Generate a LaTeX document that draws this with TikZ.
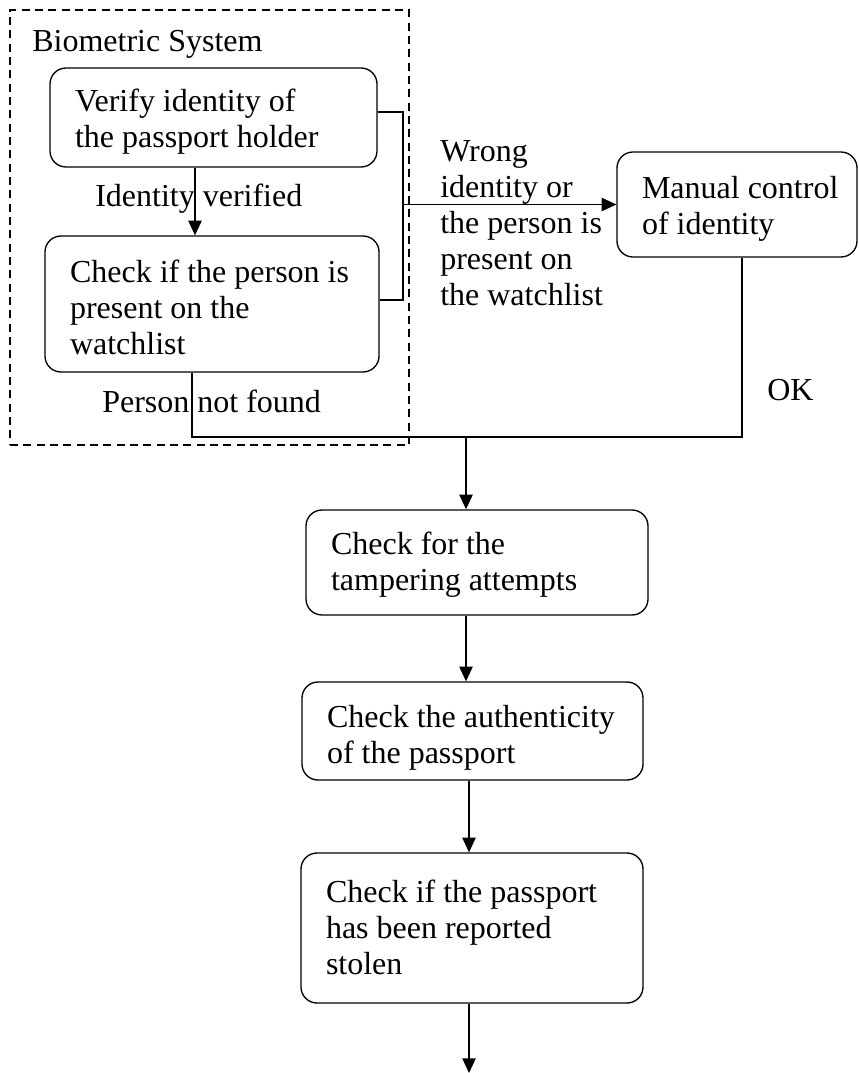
\documentclass[tikz,border=0pt]{standalone}
\usepackage{fontspec}
\setmainfont{Liberation Serif}
\usetikzlibrary{arrows.meta}
\newcommand{\boxlines}[3]{\raisebox{-#2}[\height][\depth]{\makebox[#1][l]{\begin{tabular}{@{}l@{}}#3\end{tabular}}}}
\begin{document}
\begin{tikzpicture}[x=0.75pt,y=-0.75pt,
  every node/.style={font=\fontsize{24pt}{27pt}\selectfont},
  proc/.style={draw,line width=1pt,rounded corners=12pt,inner xsep=18.75pt,inner ysep=0pt,anchor=center},
  lbl/.style={inner sep=0pt},
  conn/.style={line width=1pt},
  arr/.style={line width=1pt,-{Triangle[length=11pt,width=10pt]}},
  grp/.style={draw,line width=0.8pt,dash pattern=on 6pt off 4pt,inner sep=0pt}]
\useasboundingbox (0,0) rectangle (858,1073);

% group box
\node[grp,minimum width=299.25pt,minimum height=326.25pt] (bio) at (209.5,227.5) {};
\node[lbl,anchor=base west] (biot) at (32,52) {Biometric System};

% process boxes
\node[proc,minimum width=245.25pt,minimum height=74.25pt] (verify) at (213.5,117.5) {\boxlines{207.75pt}{3.75pt}{Verify identity of\\the passport holder}};
\node[proc,minimum width=250.5pt,minimum height=102pt] (watch) at (212,304) {\boxlines{213pt}{5.25pt}{Check if the person is\\present on the\\watchlist}};
\node[proc,minimum width=180pt,minimum height=78.75pt] (manual) at (737,204.5) {\boxlines{142.5pt}{3.75pt}{Manual control\\of identity}};
\node[proc,minimum width=256.5pt,minimum height=78.75pt] (tamper) at (477,562.5) {\boxlines{219pt}{2.25pt}{Check for the\\tampering attempts}};
\node[proc,minimum width=255.75pt,minimum height=73.5pt] (auth) at (472.5,731) {\boxlines{218.25pt}{5.25pt}{Check the authenticity\\of the passport}};
\node[proc,minimum width=256.5pt,minimum height=112.5pt] (stolen) at (472,928) {\boxlines{219pt}{2.25pt}{Check if the passport\\has been reported\\stolen}};

% labels
\node[lbl,anchor=base west] (idv) at (95,207) {Identity verified};
\node[lbl,anchor=base west] (pnf) at (102,412) {Person not found};
\node[lbl,anchor=base west] (ok) at (767,400) {OK};
\node[lbl,anchor=west,align=left] (wrong) at (440,223) {Wrong\\identity or\\the person is\\present on\\the watchlist};

% helper coordinates
\coordinate (v1) at (195,0);
\coordinate (bk) at (403,0);
\coordinate (jl) at (192,437);
\coordinate (jr) at (742,437);
\coordinate (jm) at (466,437);
\coordinate (v2) at (469,0);
\coordinate (endp) at (469,1073);

% connectors
\draw[arr] (verify.south -| v1) -- (watch.north -| v1);
\draw[conn] ([yshift=4pt]verify.east) -- ([yshift=4pt]verify.east -| bk) -- ([yshift=3pt]watch.east -| bk) -- ([yshift=3pt]watch.east);
\draw[arr] (bk |- manual.west) -- (manual.west);
\draw[conn] (watch.south -| jl) -- (jl) -- (jr) -- (manual.south -| jr);
\draw[arr] (jm) -- (tamper.north -| jm);
\draw[arr] (tamper.south -| jm) -- (auth.north -| jm);
\draw[arr] (auth.south -| v2) -- (stolen.north -| v2);
\draw[arr] (stolen.south -| endp) -- (endp);
\end{tikzpicture}
\end{document}
